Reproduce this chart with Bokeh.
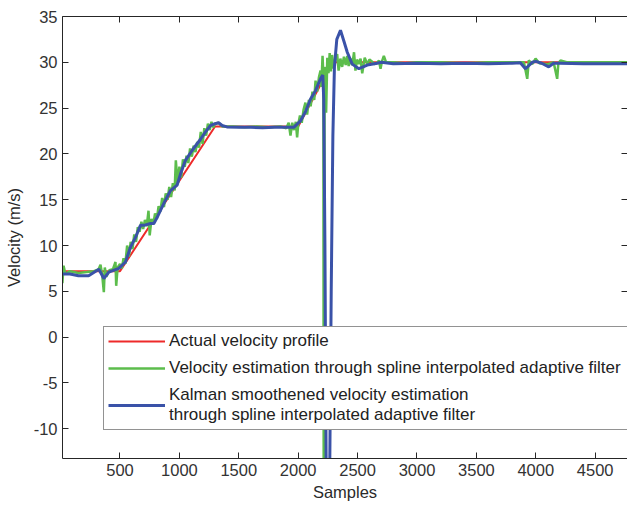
from bokeh.plotting import figure
from bokeh.models import Range1d, LinearAxis, FixedTicker, Legend, LegendItem
from bokeh.embed import file_html
from bokeh.resources import INLINE

# ---------------- data ----------------
x_ticks = [500, 1000, 1500, 2000, 2500, 3000, 3500, 4000, 4500]
y_ticks = [-10, -5, 0, 5, 10, 15, 20, 25, 30, 35]
y_tick_labels = {-10: "-10", -5: "-5"}

actual_x = [0, 500, 1300, 2000, 2290, 4800]
actual_v = [7.2, 7.2, 23.0, 23.0, 30.0, 30.0]

spline_x = [0, 15, 25, 40, 80, 150, 220, 280, 320, 336, 350, 364, 372, 385, 410,
            440, 462, 468, 480,
            500, 515, 530, 545, 560, 575, 590, 605, 620, 635, 650, 665, 680, 695,
            710, 725, 740, 750, 765, 780, 795, 810, 825, 840, 855, 870, 885, 900,
            915, 930, 945, 960, 970, 985, 1000, 1015, 1030, 1045, 1060, 1075, 1090,
            1105, 1120, 1135, 1150, 1165, 1180, 1195, 1210, 1225, 1240, 1255, 1270,
            1285, 1300, 1330, 1360, 1450, 1550, 1650, 1750, 1850,
            1900, 1920, 1935, 1950, 1965, 1980, 1991, 2000, 2015, 2030, 2045, 2061,
            2075, 2090, 2105, 2120, 2135, 2146, 2160, 2175, 2188, 2195, 2205, 2212,
            2216, 2222, 2230, 2235, 2245, 2255, 2265, 2275, 2285, 2300, 2315, 2328,
            2340, 2355, 2370, 2385, 2400, 2413, 2425, 2440, 2455, 2470, 2482, 2495,
            2510, 2525, 2539, 2560, 2582, 2600, 2620, 2640, 2660, 2680, 2693, 2705,
            2721, 2740, 2800, 2900, 3000, 3200, 3400, 3600, 3800, 3900, 3928,
            3941, 3970, 3998, 4030, 4100, 4150, 4180, 4190, 4208, 4260, 4500, 4800]
spline_v = [7.3, 5.9, 7.8, 6.9, 7.2, 7.0, 7.1, 7.2, 7.4, 7.9, 6.8, 4.9, 7.6, 6.6, 7.3,
            7.4, 8.2, 5.6, 7.6,
            8.0, 7.5, 8.6, 8.0, 10.0, 8.8, 10.4, 9.6, 11.2, 10.4, 12.0, 11.5, 12.6, 11.8,
            12.8, 12.1, 13.8, 11.1, 12.9, 12.3, 13.5, 12.9, 14.3, 13.7, 15.2, 14.2, 15.7, 15.0,
            16.4, 15.3, 16.8, 16.0, 19.3, 16.8, 18.6, 17.4, 19.4, 18.6, 19.8, 19.0, 20.6,
            19.7, 20.9, 20.2, 21.3, 20.7, 22.4, 21.1, 22.8, 22.0, 23.3, 22.6, 23.5,
            22.9, 23.3, 23.4, 23.0, 23.0, 22.9, 23.0, 22.9, 23.0,
            22.8, 23.4, 22.0, 23.4, 22.6, 23.5, 21.8, 23.2, 24.2, 23.4, 24.8, 25.6,
            24.3, 25.9, 25.2, 26.8, 25.9, 28.0, 26.8, 28.4, 29.1, 27.3, 30.7, 28.5,
            -40.0, 29.5, 27.0, 24.5, 30.5, 28.8, 31.0, 29.0, 30.8, 29.3, 30.6, 30.9,
            29.1, 30.4, 29.5, 30.6, 29.7, 30.7, 29.6, 30.4, 29.7, 31.1, 29.1, 30.3,
            29.8, 30.4, 28.8, 30.5, 29.8, 30.3, 30.1, 29.8, 29.9, 30.2, 29.3, 30.1,
            30.7, 30.0, 30.0, 29.9, 30.0, 30.0, 29.9, 30.0, 30.0, 30.0, 28.2,
            30.2, 29.8, 30.4, 29.9, 29.8, 30.0, 28.2, 29.9, 30.2, 30.0, 30.0, 30.0]

kalman_x = [0, 80, 150, 236, 322, 364, 406, 490, 546, 588, 631, 672, 701, 757, 785,
            810, 869, 925, 981, 1009, 1051, 1108, 1178, 1220, 1262, 1300, 1330, 1360,
            1400, 1500, 1600, 1700, 1800, 1900, 1963, 2019, 2061, 2104, 2146, 2188,
            2207, 2215, 2225, 2238, 2262, 2278, 2292, 2305, 2325, 2356, 2385, 2413,
            2455, 2511, 2581, 2665, 2700, 2800, 3000, 3200, 3400, 3600, 3800, 3870,
            3913, 3970, 4000, 4050, 4109, 4150, 4200, 4400, 4800]
kalman_v = [6.9, 6.9, 6.7, 6.7, 7.4, 6.4, 7.1, 7.5, 8.2, 9.8, 10.9, 12.2, 12.2, 12.4, 12.4,
            13.0, 14.6, 16.0, 16.6, 17.8, 19.3, 20.4, 21.6, 22.4, 23.1, 23.3, 23.4, 23.1,
            22.95, 22.9, 22.9, 22.85, 22.9, 22.9, 22.9, 23.6, 24.6, 26.0, 26.9, 28.2,
            28.6, 26.0, 10.0, -20.0, -20.0, 5.0, 22.0, 29.5, 32.5, 33.5, 32.3, 31.1,
            29.8, 29.3, 29.7, 29.9, 30.0, 29.85, 29.9, 29.85, 29.9, 29.85, 29.9, 29.95,
            29.3, 30.0, 30.1, 29.9, 29.5, 29.9, 29.9, 29.85, 29.85]

labels = ["Actual velocity profile",
          "Velocity estimation through spline interpolated adaptive filter",
          "Kalman smoothened velocity estimation\nthrough spline interpolated adaptive filter"]

# ---------------- figure ----------------
FONT = "Liberation Sans"
FS = "16.5px"

p = figure(width=627, height=506, output_backend="svg", toolbar_location=None,
           x_range=Range1d(16, 4772), y_range=Range1d(-13.25, 35),
           x_axis_label="Samples", y_axis_label="Velocity (m/s)",
           min_border_left=62, min_border_right=0, min_border_top=16, min_border_bottom=48)
p.grid.visible = False
p.outline_line_color = None
p.background_fill_color = "white"
p.border_fill_color = "white"

for ax, ticks in ((p.xaxis[0], x_ticks), (p.yaxis[0], y_ticks)):
    ax.ticker = FixedTicker(ticks=ticks)
    ax.major_tick_in = 6
    ax.major_tick_out = 0
    ax.minor_tick_in = 0
    ax.minor_tick_out = 0
    ax.axis_line_color = "#262626"
    ax.major_tick_line_color = "#262626"
    ax.major_label_text_font = FONT
    ax.major_label_text_font_size = FS
    ax.major_label_text_color = "#333333"
    ax.major_label_standoff = 5
    ax.axis_label_text_font = FONT
    ax.axis_label_text_font_size = FS
    ax.axis_label_text_font_style = "normal"
    ax.axis_label_text_color = "#2a2a2a"
p.yaxis[0].major_label_overrides = y_tick_labels
p.xaxis[0].axis_label_standoff = 4
p.yaxis[0].axis_label_standoff = 8

top = LinearAxis(ticker=FixedTicker(ticks=x_ticks), major_label_text_font_size="1px",
                 major_label_text_color=None, major_label_standoff=0,
                 major_tick_in=6, major_tick_out=0,
                 minor_tick_in=0, minor_tick_out=0, axis_line_color="#262626",
                 major_tick_line_color="#262626")
p.add_layout(top, "above")
right = LinearAxis(ticker=FixedTicker(ticks=y_ticks), major_label_text_font_size="1px",
                   major_label_text_color=None, major_label_standoff=0,
                   major_tick_in=6, major_tick_out=0,
                   minor_tick_in=0, minor_tick_out=0, axis_line_color=None,
                   major_tick_line_color="#262626")
p.add_layout(right, "right")

r_red = p.line(actual_x, actual_v, line_color="#ee2a2a", line_width=2)
r_green = p.line(spline_x, spline_v, line_color="#5cbd4c", line_width=2.5)
r_blue = p.line(kalman_x, kalman_v, line_color="#3a52a8", line_width=3)

legend = Legend(items=[LegendItem(label=labels[0], renderers=[r_red]),
                       LegendItem(label=labels[1], renderers=[r_green]),
                       LegendItem(label=labels[2], renderers=[r_blue])],
                location=(41, 28), padding=4, spacing=7, margin=0,
                label_height=20, glyph_height=20, glyph_width=57, label_standoff=4,
                label_width=460,
                label_text_font=FONT, label_text_font_size="17px",
                label_text_line_height=1.3, label_text_color="#222222",
                border_line_color="#262626", border_line_width=1,
                background_fill_color="white", background_fill_alpha=1.0)
p.add_layout(legend)

open("out.html", "w").write(file_html(p, INLINE))
